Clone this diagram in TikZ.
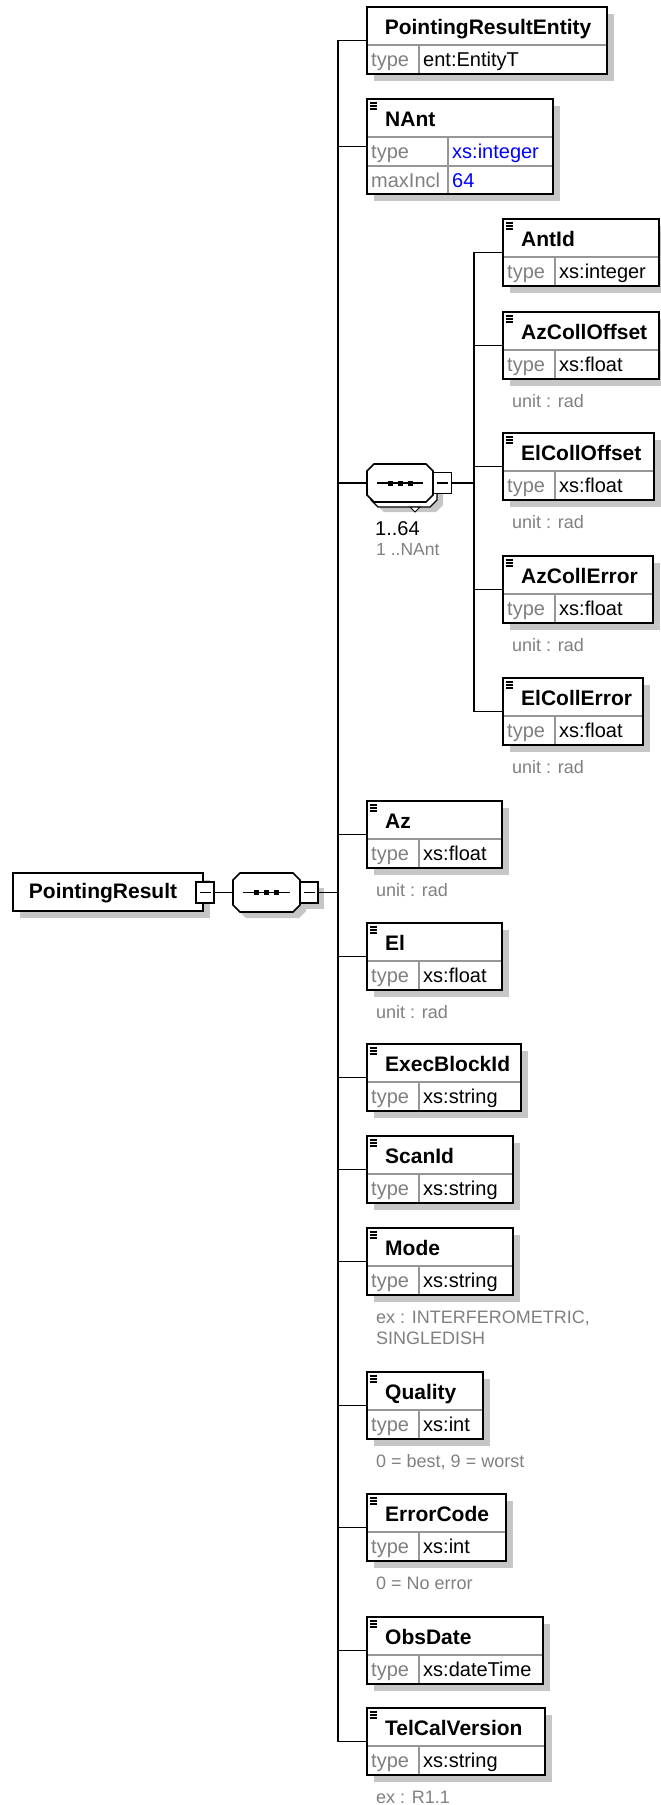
\documentclass[tikz,border=0pt]{standalone}
\usepackage{fontspec}
\setmainfont{Liberation Sans}
\usetikzlibrary{fit}
\definecolor{shadowc}{RGB}{198,198,198}
\definecolor{graytext}{RGB}{128,128,128}
\definecolor{divc}{RGB}{150,150,150}
\definecolor{valblue}{RGB}{0,0,255}
\tikzset{
 boxline/.style={draw=black, line width=1.6pt},
 conn/.style={draw=black, line width=1.7pt, line join=miter},
 divline/.style={draw=divc, line width=1.1pt},
 iconline/.style={draw=black, line width=1.1pt},
 titletext/.style={font=\fontsize{21}{21}\selectfont\bfseries, anchor=base west, inner sep=0pt},
 labeltext/.style={font=\fontsize{20}{20}\selectfont, text=graytext, anchor=base west, inner sep=0pt},
 valtext/.style={font=\fontsize{20}{20}\selectfont, anchor=base west, inner sep=0pt},
 annot/.style={font=\fontsize{18}{18}\selectfont, text=graytext, anchor=base west, inner sep=0pt},
 minusbox/.style={boxline, fill=white, inner sep=0pt, minimum width=18pt, minimum height=21pt},
}
% element box: name, left, top, right, title, type value
\newcommand\elembox[6]{%
  \fill[shadowc] ({#2+7},{#3+7}) rectangle ({#4+7},{#3+74});
  \fill[white] (#2,#3) rectangle (#4,{#3+67});
  \draw[divline] (#2,{#3+38}) -- (#4,{#3+38});
  \draw[divline] ({#2+52},{#3+38}) -- ({#2+52},{#3+67});
  \node[boxline, inner sep=0pt, fit={(#2,#3) (#4,{#3+67})}] (#1) {};
  \draw[iconline] ({#2+3},{#3+4}) -- ({#2+10},{#3+4}) ({#2+3},{#3+7}) -- ({#2+10},{#3+7}) ({#2+3},{#3+10}) -- ({#2+10},{#3+10});
  \node[titletext] (#1-t) at ({#2+18},{#3+27}) {#5};
  \node[labeltext] (#1-k) at ({#2+4},{#3+59}) {type};
  \node[valtext] (#1-v) at ({#2+56},{#3+59}) {#6};
}
% octagon path: left, top, right, bottom
\newcommand\octopath[4]{({#1+7},#2) -- ({#3-7},#2) -- (#3,{#2+7}) -- (#3,{#4-7}) -- ({#3-7},#4) -- ({#1+7},#4) -- (#1,{#4-7}) -- (#1,{#2+7}) -- cycle}
\newcommand\minusmark[1]{\draw[line width=1.2pt] (#1.center) ++(-5.5,0) -- ++(11,0);}
\newcommand\seqdots[3]{% left, right, y
  \draw[line width=1.2pt] ({#1+10},#3) -- ({#2-10},#3);
  \fill ({(#1+#2)/2-12.5},{#3-2.5}) rectangle ({(#1+#2)/2-7.5},{#3+2.5});
  \fill ({(#1+#2)/2-2.5},{#3-2.5}) rectangle ({(#1+#2)/2+2.5},{#3+2.5});
  \fill ({(#1+#2)/2+7.5},{#3-2.5}) rectangle ({(#1+#2)/2+12.5},{#3+2.5});
}
\begin{document}
\begin{tikzpicture}[x=1pt,y=-1pt]
\useasboundingbox (0,0) rectangle (661,1805);
\coordinate (trunk) at (338,0);
\coordinate (itrunk) at (474,0);

% ---------- root ----------
\fill[shadowc] (20,880) rectangle (210,918);
\node[boxline, fill=white, inner sep=0pt, fit={(13,873) (203,911)}] (root) {};
\node[titletext, anchor=base] (root-t) at (103,898) {PointingResult};
\node[minusbox] (rootminus) at (205,892.5) {};
\minusmark{rootminus}

% ---------- main sequence ----------
\fill[shadowc] \octopath{239}{879}{306}{918};
\fill[shadowc] (306,888) rectangle (324,909);
\draw[boxline, fill=white] \octopath{233}{873}{300}{912};
\node[inner sep=0pt, fit={(233,873) (300,912)}] (seq) {};
\seqdots{233}{300}{892.5}
\node[minusbox] (seqminus) at (309,892.5) {};
\minusmark{seqminus}

% ---------- PointingResultEntity ----------
\fill[shadowc] (374,14) rectangle (614,81);
\fill[white] (367,7) rectangle (607,74);
\draw[divline] (367,45) -- (607,45);
\draw[divline] (419,45) -- (419,74);
\node[boxline, inner sep=0pt, fit={(367,7) (607,74)}] (PRE) {};
\node[titletext, anchor=base] (PRE-t) at (488,34) {PointingResultEntity};
\node[labeltext] (PRE-k) at (371,66) {type};
\node[valtext] (PRE-v) at (423,66) {ent:EntityT};

% ---------- NAnt ----------
\fill[shadowc] (374,106) rectangle (560,201);
\fill[white] (367,99) rectangle (553,194);
\draw[divline] (367,137) -- (553,137);
\draw[divline] (367,166) -- (553,166);
\draw[divline] (448,137) -- (448,194);
\node[boxline, inner sep=0pt, fit={(367,99) (553,194)}] (NAnt) {};
\draw[iconline] (370,103) -- (377,103) (370,106) -- (377,106) (370,109) -- (377,109);
\node[titletext] (NAnt-t) at (385,126) {NAnt};
\node[labeltext] (NAnt-k1) at (371,158) {type};
\node[valtext, text=valblue] (NAnt-v1) at (452,158) {xs:integer};
\node[labeltext] (NAnt-k2) at (371,187) {maxIncl};
\node[valtext, text=valblue] (NAnt-v2) at (452,187) {64};

% ---------- inner sequence (repeated) ----------
\fill[shadowc] \octopath{377}{475}{443}{512};
\draw[boxline, line width=1.2pt, fill=white] \octopath{371}{469}{437}{507};
\draw[line width=1pt, fill=white] (410,507) -- (420,507) -- (415,512) -- cycle;
\draw[boxline, fill=white] \octopath{367}{464}{433}{502};
\node[inner sep=0pt, fit={(367,464) (433,502)}] (seqb) {};
\seqdots{367}{433}{483}
\node[minusbox] (seqbminus) at (442.5,483) {};
\minusmark{seqbminus}
\node[valtext] (card) at (375,535) {1..64};
\node[annot, font=\fontsize{17.5}{17.5}\selectfont] (cardb) at (376,555) {1 ..NAnt};

% ---------- children of inner sequence ----------
\elembox{AntId}{503}{219}{659}{AntId}{xs:integer}
\elembox{AzCollOffset}{503}{312}{659}{AzCollOffset}{xs:float}
\node[annot] (AzCollOffset-a) at (512,407) {unit : rad};
\elembox{ElCollOffset}{503}{433}{654}{ElCollOffset}{xs:float}
\node[annot] (ElCollOffset-a) at (512,528) {unit : rad};
\elembox{AzCollError}{503}{556}{653}{AzCollError}{xs:float}
\node[annot] (AzCollError-a) at (512,651) {unit : rad};
\elembox{ElCollError}{503}{678}{643}{ElCollError}{xs:float}
\node[annot] (ElCollError-a) at (512,773) {unit : rad};

% ---------- remaining children ----------
\elembox{Az}{367}{801}{502}{Az}{xs:float}
\node[annot] (Az-a) at (376,896) {unit : rad};
\elembox{El}{367}{923}{502}{El}{xs:float}
\node[annot] (El-a) at (376,1018) {unit : rad};
\elembox{ExecBlockId}{367}{1044}{521}{ExecBlockId}{xs:string}
\elembox{ScanId}{367}{1136}{513}{ScanId}{xs:string}
\elembox{Mode}{367}{1228}{513}{Mode}{xs:string}
\node[annot] (Mode-a1) at (376,1323) {ex : INTERFEROMETRIC,};
\node[annot] (Mode-a2) at (376,1344) {SINGLEDISH};
\elembox{Quality}{367}{1372}{483}{Quality}{xs:int}
\node[annot] (Quality-a) at (376,1467) {0 = best, 9 = worst};
\elembox{ErrorCode}{367}{1494}{506}{ErrorCode}{xs:int}
\node[annot] (ErrorCode-a) at (376,1589) {0 = No error};
\elembox{ObsDate}{367}{1617}{543}{ObsDate}{xs:dateTime}
\elembox{TelCalVersion}{367}{1708}{545}{TelCalVersion}{xs:string}
\node[annot] (TelCalVersion-a) at (376,1803) {ex : R1.1};

% ---------- connectors ----------
\draw[conn] (rootminus.east) -- (seq.west);
\draw[conn] (seqminus.east) -- (seqminus.east -| trunk);
\draw[conn] (PRE.west) -- (PRE.west -| trunk) -- (TelCalVersion.west -| trunk) -- (TelCalVersion.west);
\foreach \n in {NAnt,seqb,Az,El,ExecBlockId,ScanId,Mode,Quality,ErrorCode,ObsDate}
  \draw[conn] (\n.west -| trunk) -- (\n.west);
\draw[conn] (seqbminus.east) -- (seqbminus.east -| itrunk);
\draw[conn] (AntId.west) -- (AntId.west -| itrunk) -- (ElCollError.west -| itrunk) -- (ElCollError.west);
\foreach \n in {AzCollOffset,ElCollOffset,AzCollError}
  \draw[conn] (\n.west -| itrunk) -- (\n.west);
\end{tikzpicture}
\end{document}
